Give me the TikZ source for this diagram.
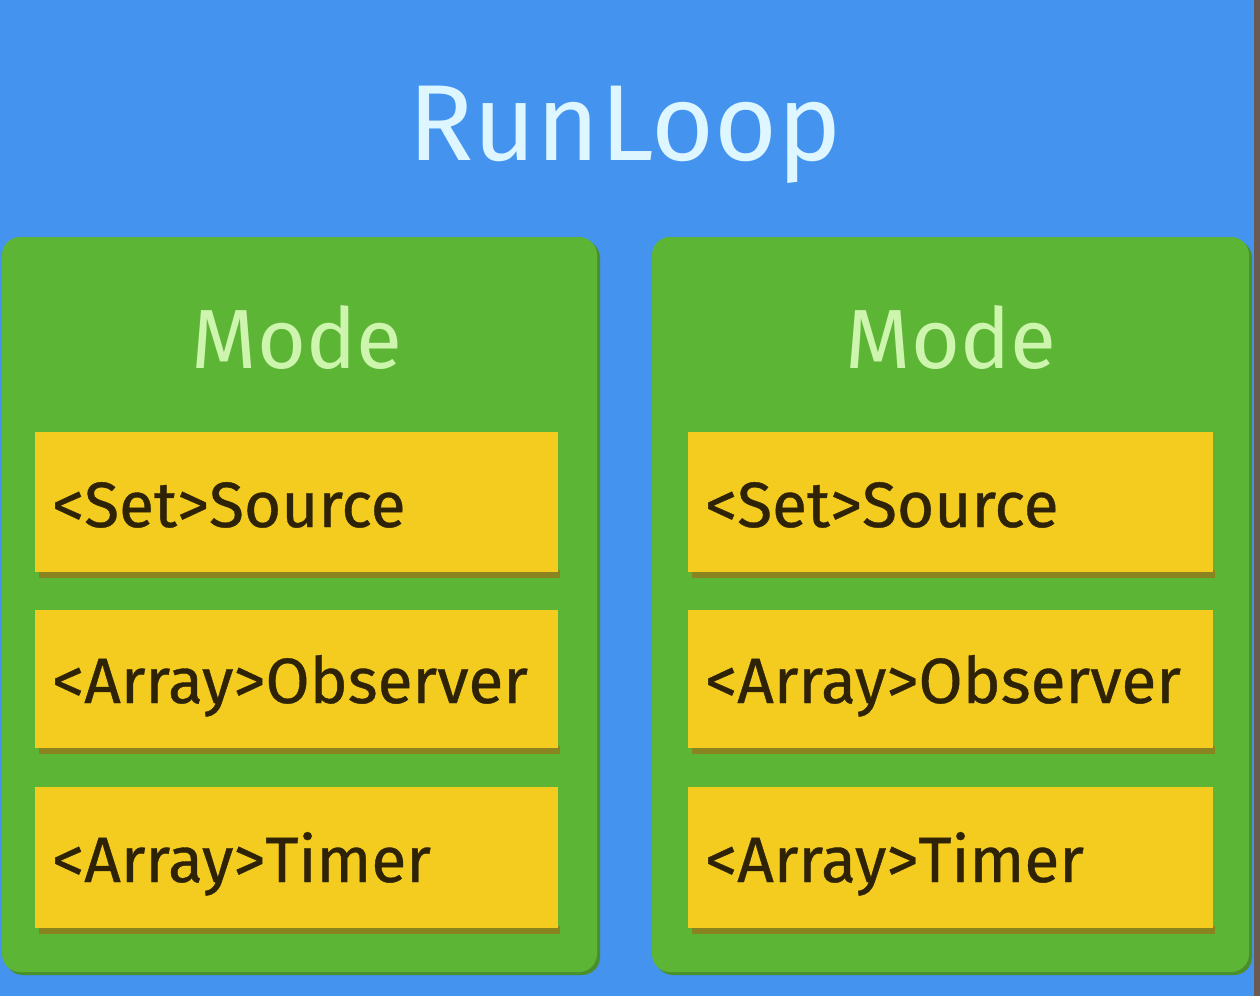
\documentclass[tikz,border=0pt]{standalone}
\usepackage{fontspec}
\setmainfont{Fira Sans}
\definecolor{bgblue}{HTML}{4393EF}
\definecolor{modegreen}{HTML}{5DB535}
\definecolor{modeshadow}{HTML}{4A8F2C}
\definecolor{itemyellow}{HTML}{F3CC1F}
\definecolor{itemshadow}{HTML}{8A8420}
\definecolor{itemtext}{HTML}{2E2306}
\definecolor{modetext}{HTML}{CDF5AE}
\definecolor{titletext}{HTML}{DDF6FF}
\definecolor{edgestrip}{HTML}{6B5A52}
\tikzset{
  modebox/.style={fill=modegreen, rounded corners=18pt},
  modeshade/.style={fill=modeshadow, rounded corners=18pt},
  itembox/.style={fill=itemyellow},
  itemshade/.style={fill=itemshadow},
  itemlabel/.style={anchor=base west, inner sep=0pt, text=itemtext, font=\fontsize{64}{70}\selectfont\addfontfeatures{FakeBold=0.6}},
  modelabel/.style={anchor=base, inner sep=0pt, text=modetext, font=\fontsize{84}{90}\selectfont},
  titlelabel/.style={anchor=base, inner sep=0pt, text=titletext, font=\fontsize{108}{116}\selectfont},
}
\begin{document}
\begin{tikzpicture}[x=1pt,y=-1pt]
\useasboundingbox (0,0) rectangle (1260,996);
\fill[bgblue] (0,0) rectangle (1260,996);
\fill[edgestrip] (1254,0) rectangle (1260,996);
\node[titlelabel] (title) at (625,160) {RunLoop};
% left mode
\fill[modeshade] (5,240) rectangle (600,975);
\fill[modebox] (2,237) rectangle (597,972);
\node[modelabel] (modeL) at (297,368) {Mode};
% right mode
\fill[modeshade] (655,240) rectangle (1252,975);
\fill[modebox] (652,237) rectangle (1249,972);
\node[modelabel] (modeR) at (951,368) {Mode};
% items
\foreach \xl/\xr/\side in {35/558/L,688/1213/R}{
  \foreach \yt/\yb/\bl/\txt/\nm in {432/576/527/{<Set>Source}/src, 610/752/703/{<Array>Observer}/obs, 787/932/882/{<Array>Timer}/tim}{
    \fill[itemshade] (\xl+4,\yb-6) rectangle (\xr+2,\yb+2);
    \fill[itembox] (\xl,\yt) rectangle (\xr,\yb-4);
    \node[itemlabel] (\nm\side) at (\xl+17,\bl) {\txt};
  }
}
\end{tikzpicture}
\end{document}
